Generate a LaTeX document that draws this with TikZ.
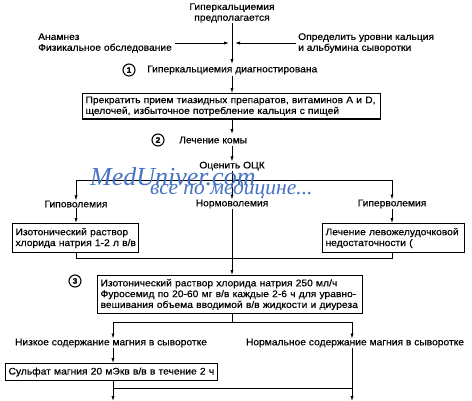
\documentclass[tikz,border=0pt]{standalone}
\usepackage{fontspec}
\setmainfont{Liberation Sans}[FakeStretch=1.07, FakeBold=0.5]
\newfontfamily\wmfont{Liberation Serif}
\usetikzlibrary{arrows.meta}
\definecolor{wmblue}{RGB}{70,115,195}
\newcommand\oneln[1]{\mbox{#1}}
\tikzset{
  txt/.style={inner sep=0pt, font=\fontsize{9.6}{10.8}\selectfont, align=left},
  ctxt/.style={inner sep=0pt, font=\fontsize{9.6}{10.8}\selectfont, align=center},
  bx/.style={draw, line width=1.1pt},
  ln/.style={line width=0.8pt},
  ar/.style={line width=0.8pt, -{Latex[length=5pt,width=3.2pt]}},
  num/.style={draw, circle, line width=1.1pt, minimum size=12pt, inner sep=0pt, font=\fontsize{8}{8}\selectfont\bfseries},
  wm/.style={inner sep=0pt, text=wmblue, font=\wmfont\itshape\fontsize{26}{26}\selectfont}
}
\begin{document}
\begin{tikzpicture}[x=1pt,y=-1pt]
\useasboundingbox (0,0) rectangle (472,400);
% top
\node[ctxt] (susp) at (232,13) {Гиперкальциемия\\предполагается};
\node[txt, anchor=west] (anam) at (38,43) {Анамнез\\Физикальное обследование};
\node[txt, anchor=west] (lab) at (298,43) {Определить уровни кальция\\и альбумина сыворотки};
\coordinate (j1) at (232,43);
\node[txt, anchor=west] (diag) at (147,70) {Гиперкальциемия диагностирована};
\node[num] (n1) at (129,70) {1};
\coordinate (diagtop) at (232,64);
\coordinate (diagbot) at (232,76);
\draw[ln] (susp.south) -- (j1);
\draw[ar] (j1) -- (diagtop);
\draw[ar] (anam.east |- j1) ++(3,0) -- ([xshift=-3pt]j1);
\draw[ar] (lab.west |- j1) ++(-2,0) -- ([xshift=3pt]j1);
% box1
\node[bx, txt, minimum width=298pt, minimum height=25pt, inner sep=3pt, anchor=north west, text width=292pt] (b1) at (82,93) {\oneln{Прекратить прием тиазидных препаратов, витаминов А и D,}\\\oneln{щелочей, избыточное потребление кальция с пищей}};
\draw[ar] (diagbot) -- (b1.north -| diagbot);
% coma
\node[num] (n2) at (158,140) {2};
\node[txt, anchor=west] (coma) at (179,140) {Лечение комы};
\coordinate (comatop) at (232,134);
\coordinate (comabot) at (232,146);
\draw[ar] (b1.south -| comatop) -- (comatop);
\node[ctxt] (ock) at (232,166) {Оценить ОЦК};
\draw[ar] (comabot) -- (ock.north);
% branch
\coordinate (br) at (232,180);
\coordinate (brl) at (76,180);
\coordinate (brr) at (392,180);
\draw[ln] (brl) -- (brr);
\node[ctxt] (hypo) at (76,204) {Гиповолемия};
\node[ctxt] (norm) at (232,204) {Нормоволемия};
\node[ctxt] (hyper) at (392,204) {Гиперволемия};
\draw[ar] (brl) -- (hypo.north);
\draw[ar] (brr) -- (hyper.north);
\draw[ar] (ock.south) -- (norm.north);
% watermark
\node[wm, anchor=west] (wm1) at (90,177) {MedUniver.com};
\node[wm, anchor=west, font=\wmfont\itshape\fontsize{21.5}{21.5}\selectfont] (wm2) at (150,189) {все по медицине...};
% side boxes
\node[bx, txt, anchor=north west, minimum width=126pt, minimum height=29pt, inner sep=3pt, text width=120pt] (bl) at (12,223) {\oneln{Изотонический раствор}\\\oneln{хлорида натрия 1-2 л в/в}};
\node[bx, txt, anchor=north west, minimum width=142pt, minimum height=29pt, inner sep=3pt, text width=136pt] (bri) at (322,223) {\oneln{Лечение левожелудочковой}\\\oneln{недостаточности (}};
\draw[ar] (hypo.south) -- (bl.north -| hypo);
\draw[ar] (hyper.south) -- (bri.north -| hyper);
\coordinate (mgl) at (76,258);
\coordinate (mgr) at (392,258);
\coordinate (mgc) at (232,258);
\draw[ln] (bl.south -| mgl) -- (mgl) -- (mgr) -- (bri.south -| mgr);
% box3
\node[bx, txt, anchor=north west, minimum width=265pt, minimum height=38pt, inner sep=3pt, text width=259pt] (b3) at (97,275) {\oneln{Изотонический раствор хлорида натрия 250 мл/ч}\\\oneln{Фуросемид по 20-60 мг в/в каждые 2-6 ч для уравно-}\\\oneln{вешивания объема вводимой в/в жидкости и диуреза}};
\node[num] (n3) at (75,281) {3};
\draw[ar] (norm.south) -- (b3.north -| norm);
% Mg split
\coordinate (sc) at (232,322);
\coordinate (sl) at (113,322);
\coordinate (sr) at (352,322);
\draw[ln] (b3.south -| sc) -- (sc);
\draw[ln] (sl) -- (sr);
\node[ctxt] (low) at (111,343) {Низкое содержание магния в сыворотке};
\node[ctxt] (nrm) at (355,343) {Нормальное содержание магния в сыворотке};
\draw[ar] (sl) -- (low.north -| sl);
\draw[ar] (sr) -- (nrm.north -| sr);
\node[bx, txt, anchor=north west, minimum width=212pt, minimum height=17pt, inner sep=3pt, text width=206pt] (sulf) at (5,363) {\oneln{Сульфат магния 20 мЭкв в/в в течение 2 ч}};
\draw[ar] (low.south -| sl) -- (sulf.north -| sl);
\coordinate (ml) at (113,388);
\coordinate (mr) at (352,388);
\coordinate (el) at (113,401);
\coordinate (er) at (352,401);
\draw[ln] (ml) -- (mr);
\draw[ar] (sulf.south -| ml) -- (el);
\draw[ar] (nrm.south -| mr) -- (er);
\end{tikzpicture}
\end{document}
